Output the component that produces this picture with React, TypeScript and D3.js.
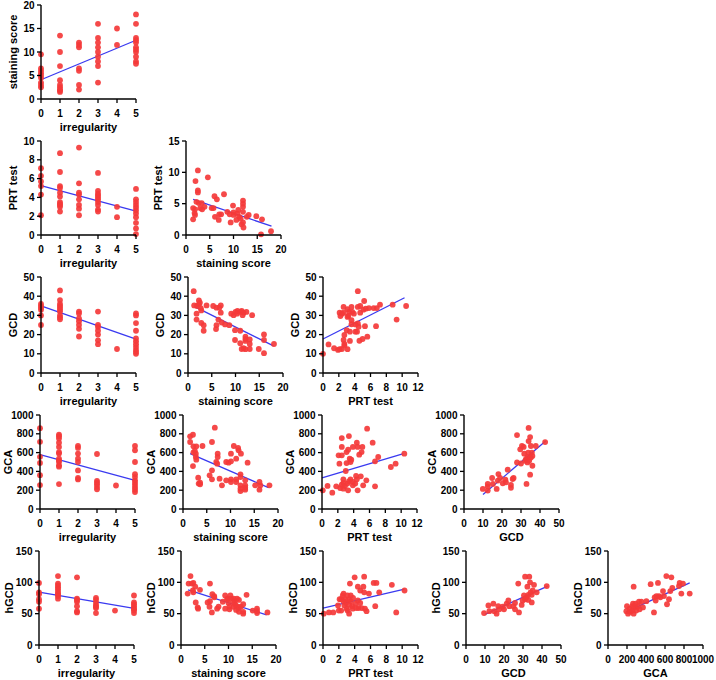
import { scaleLinear } from 'd3'

type Pt = [number, number]

// irregularity is an integer score, so those panels are stored per level (0..5)
const byLevel = (levels: number[][]): Pt[] => levels.flatMap((ys, i) => ys.map((y) => [i, y] as Pt))

const irrStain = byLevel([
  [9.5, 6.5, 6, 5.5, 5, 4.5, 3.5, 3, 2.5],
  [13.5, 10, 7, 4, 3, 2.5, 2, 1.8, 1.5],
  [12, 11.5, 11, 6.5, 6, 3, 2],
  [16, 13, 12, 11, 10, 9, 8, 7, 3.5],
  [15, 11.5],
  [18, 16, 13, 12.5, 12, 11, 10.5, 10, 9, 8, 7.5],
])

const irrPrt = byLevel([
  [7.1, 6.3, 5.7, 5.2, 4.3, 2.1],
  [8.7, 6.7, 5.2, 5.0, 4.5, 4.1, 3.5, 3.3, 3.2, 3.0, 2.5],
  [9.3, 5.5, 4.5, 4.3, 3.8, 3.2, 2.8, 2.1],
  [6.6, 4.7, 4.4, 4.2, 4.0, 3.8, 3.5, 3.2, 2.7, 2.5],
  [3.0, 1.9],
  [4.9, 3.8, 3.5, 3.2, 2.9, 2.6, 2.3, 1.9, 1.3, 0.7, 0.1],
])

const stainPrt: Pt[] = [
  [2.5, 10.3], [2.0, 8.6], [2.5, 7.1], [2.5, 6.8], [2.2, 5.3], [2.7, 5.1], [3.3, 5.1],
  [1.5, 4.3], [1.9, 4.1], [1.8, 3.5], [1.9, 3.2], [1.5, 2.5], [3.0, 4.3], [3.4, 4.1],
  [3.9, 4.5], [4.6, 9.2], [6.0, 6.2], [6.5, 5.7], [8.0, 6.5], [5.4, 4.3], [5.8, 4.3],
  [6.1, 2.9], [7.0, 3.3], [7.4, 3.3], [6.9, 2.4], [8.7, 3.7], [9.2, 3.3], [9.9, 4.7],
  [10, 3.6], [10, 3.2], [9.4, 2.0], [11, 4.0], [10.8, 3.4], [11.2, 2.9], [10.6, 2.4],
  [12, 5.5], [12, 5.0], [12, 4.5], [12, 3.7], [12, 2.0], [11.7, 1.7], [12.1, 1.2],
  [12.8, 2.9], [13.2, 3.2], [14.8, 3.0], [16, 2.5], [15.8, 0.1], [17.9, 0.6], [11.5, 2.6],
]

const irrGcd = byLevel([
  [36, 35, 34, 33, 30, 25],
  [43, 38, 36, 35, 34, 33, 32, 30, 29, 28],
  [32, 31, 28.5, 27, 25, 23, 19],
  [32, 25, 24, 22, 20, 17, 15],
  [12.5],
  [31, 30, 26, 22, 18, 16.5, 15, 13.5, 12, 11, 10],
])

const stainGcd: Pt[] = [
  [1.2, 42.6], [1.3, 35.2], [1.9, 34.9], [2.3, 35.7], [2.5, 36.6], [2.3, 37.8], [1.8, 30.9],
  [1.8, 27.8], [2.7, 33.8], [2.8, 32.6], [2.8, 26.1], [3.3, 24.9], [3.3, 22], [3.9, 35.2],
  [5.3, 34.9], [6.0, 34], [6.6, 34], [6.9, 35.2], [6.9, 31.4], [6.0, 24.9], [5.9, 22.9],
  [6.4, 27.8], [7.1, 26.3], [7.8, 25.3], [8.7, 24.9], [9.1, 30.9], [9.6, 30.1], [10, 31.8],
  [10.4, 32.3], [10.3, 30.9], [11, 31.8], [11.3, 32.3], [11.7, 31.4], [12.3, 31.8],
  [11.5, 30.1], [13.5, 30.1], [9.9, 22.3], [9.9, 17.2], [11, 22], [11, 15.5], [12.1, 18.9],
  [12.1, 17.7], [12.1, 16.7], [11.7, 12.9], [12.1, 12.4], [11.3, 12.5], [13, 17.5],
  [13, 15.1], [13, 12.5], [14.9, 12.5], [16, 20.1], [16, 17.2], [16, 10.3], [18.1, 15.1],
]

const prtGcd: Pt[] = [
  [0, 10], [0.7, 14.9], [1.4, 12.9], [1.9, 12], [2.1, 12.4], [2.4, 12.5], [3.1, 12.4],
  [2.1, 31.4], [2.2, 29.7], [2.4, 30.9], [2.6, 31.4], [2.6, 34.4], [2.7, 19.8], [2.6, 17.2],
  [2.7, 15.1], [2.7, 14.3], [3.0, 22.3], [3.1, 33.2], [3.3, 31.8], [3.2, 29.7], [3.1, 29.2],
  [3.4, 16.7], [3.4, 21.5], [3.6, 34.4], [3.6, 27.5], [3.6, 25.4], [3.7, 31.8], [3.9, 30.9],
  [4.1, 21.5], [4.3, 21.5], [4.1, 25.3], [4.4, 42.6], [4.4, 34.4], [4.7, 34.9], [4.4, 25.8],
  [4.5, 24.1], [4.6, 16.8], [5.0, 17.7], [4.7, 31.4], [5.1, 33], [5.2, 37.5], [5.4, 33.5],
  [5.3, 24.4], [5.6, 18.9], [5.8, 33.8], [6.4, 33.8], [6.8, 33.8], [6.7, 24.4], [7.2, 35.6],
  [8.8, 35.6], [9.3, 27.8], [10.5, 34.9],
]

const irrGca = byLevel([
  [860, 715, 555, 490, 360, 255],
  [790, 775, 750, 705, 660, 605, 590, 535, 515, 500, 465, 450, 265],
  [670, 650, 590, 535, 500, 410, 330, 315],
  [585, 300, 280, 260, 235, 210],
  [250],
  [670, 625, 500, 370, 340, 305, 280, 255, 230, 205, 180],
])

const stainGca: Pt[] = [
  [1.5, 773], [2.1, 790], [1.5, 713], [2.2, 667], [2.5, 617], [2.8, 667], [2.2, 603],
  [2.7, 589], [2.7, 553], [2.8, 525], [2.1, 457], [3.2, 333], [3.3, 270], [3.6, 262],
  [3.6, 280], [4.1, 670], [5.6, 358], [6.1, 411], [6.1, 713], [6.1, 316], [6.7, 865],
  [7.0, 500], [7.3, 589], [7.3, 553], [7.2, 482], [7.7, 323], [8.2, 252], [9.1, 500],
  [9.6, 493], [10.1, 507], [9.1, 305], [10.1, 316], [10.1, 287], [10.1, 589], [10.7, 670],
  [11.2, 535], [11.2, 316], [11.2, 287], [11.6, 649], [11.7, 624], [12.2, 589], [12.1, 369],
  [12.1, 340], [12.1, 252], [12.1, 216], [12.1, 191], [13.1, 305], [13.1, 252], [13.1, 227],
  [13.1, 206], [13.6, 493], [15.2, 252], [16.1, 287], [16.3, 252], [16.1, 206], [18.2, 252],
]

const prtGca: Pt[] = [
  [0.1, 199], [0.7, 245], [1.3, 174], [1.8, 241], [2.1, 571], [2.2, 482], [2.5, 571],
  [2.5, 660], [2.5, 755], [2.3, 223], [2.5, 259], [2.7, 316], [2.7, 216], [2.7, 277],
  [2.9, 245], [3.0, 404], [3.1, 489], [3.1, 606], [3.3, 631], [3.2, 270], [3.3, 199],
  [3.4, 294], [3.4, 776], [3.5, 535], [3.6, 500], [3.7, 525], [3.6, 316], [3.9, 287],
  [3.9, 252], [3.9, 660], [4.2, 270], [4.3, 351], [4.4, 316], [4.5, 199], [4.4, 706],
  [4.5, 660], [4.7, 578], [5.0, 606], [5.1, 660], [4.9, 348], [5.2, 252], [5.6, 305],
  [5.7, 855], [6.4, 706], [6.7, 241], [6.7, 507], [7.1, 553], [8.7, 447], [9.3, 482],
  [10.4, 589],
]

const gcdGca: Pt[] = [
  [9.9, 214], [12.5, 267], [12.5, 239], [12.5, 196], [14.8, 330], [15.2, 267], [17.2, 214],
  [17.8, 302], [18.1, 372], [19, 330], [20.4, 274], [21.8, 312], [22.1, 284], [23, 418],
  [24.7, 256], [24.7, 225], [25.6, 319], [26.1, 330], [27.9, 495], [27.9, 786], [29.6, 635],
  [30, 484], [30.5, 670], [31.4, 660], [31.7, 589], [32.2, 512], [32.6, 530], [32.9, 267],
  [33.4, 554], [33.4, 495], [33.8, 600], [34, 723], [34, 863], [34.3, 512], [34.8, 765],
  [34.8, 365], [35.2, 547], [35.2, 670], [35.7, 600], [36, 565], [36, 460], [37.8, 670],
  [42.7, 712],
]

const irrHgcd = byLevel([
  [99, 84, 81, 73, 69, 58],
  [110, 98, 95, 92, 89, 85, 82, 80, 78, 74],
  [108, 74, 72, 69, 62, 54, 52],
  [75, 72, 67, 63, 61, 59, 51],
  [55],
  [79, 68, 65, 62, 59, 57, 55, 51],
])

const stainHgcd: Pt[] = [
  [1.6, 98], [1.4, 82], [2.0, 110], [2.3, 98], [2.6, 99], [2.5, 87], [2.6, 84], [3.0, 93],
  [3.1, 68], [3.5, 60], [3.6, 58], [4.0, 88], [5.6, 68], [6.1, 70], [6.1, 98], [6.0, 61],
  [6.5, 52], [6.6, 81], [7.0, 78], [7.0, 76], [7.6, 58], [7.9, 61], [8.8, 69], [9.3, 79],
  [9.3, 58], [9.7, 73], [9.9, 74], [10.0, 67], [10.2, 61], [10.2, 57], [10.4, 79],
  [10.6, 74], [11.1, 74], [11.1, 67], [11.1, 61], [11.3, 70], [11.5, 64], [11.6, 56],
  [11.8, 74], [12.2, 72], [11.9, 61], [12.2, 59], [12.2, 53], [12.6, 61], [13.1, 65],
  [13.1, 53], [13.1, 50], [13.8, 80], [15.1, 55], [16.0, 58], [16.0, 54], [16.0, 51],
  [18.2, 52],
]

const prtHgcd: Pt[] = [
  [0.1, 50], [0.75, 52], [1.3, 52], [1.9, 63], [2.0, 55], [2.1, 73], [2.3, 73], [2.3, 55],
  [2.5, 79], [2.6, 82], [2.6, 70], [2.7, 63], [2.8, 73], [2.9, 67], [3.0, 58], [3.1, 55],
  [3.1, 79], [3.3, 73], [3.3, 50], [3.3, 64], [3.4, 98], [3.5, 79], [3.5, 70], [3.7, 62],
  [3.75, 58], [3.8, 75], [4.0, 108], [4.1, 66], [4.2, 59], [4.4, 93], [4.4, 71], [4.5, 59],
  [4.7, 67], [4.7, 87], [4.9, 59], [5.1, 93], [5.2, 109], [5.2, 84], [5.3, 58], [5.5, 54],
  [5.8, 82], [6.4, 99], [6.75, 99], [6.6, 62], [7.1, 84], [8.7, 96], [9.25, 52], [10.3, 87],
]

const gcdHgcd: Pt[] = [
  [9.5, 51], [11.8, 63], [12.3, 54], [14.4, 66], [14.9, 54], [16.1, 50], [17.0, 62],
  [17.5, 57], [19.3, 61], [20, 57], [21.4, 66], [22.3, 71], [22.8, 62], [24.9, 62],
  [25.8, 57], [25.8, 67], [27.5, 98], [27.9, 52], [29.3, 64], [29.8, 71], [30.5, 79],
  [31.1, 73], [31.1, 109], [31.9, 76], [32.3, 93], [32.8, 80], [32.8, 72], [33.3, 109],
  [33.7, 100], [34, 84], [34.6, 80], [34.6, 68], [35.1, 87], [35.8, 96], [37.2, 84],
  [42.5, 94],
]

const gcaHgcd: Pt[] = [
  [193, 54], [211, 50], [200, 62], [228, 58], [235, 53], [256, 62], [263, 66], [256, 55],
  [270, 50], [270, 93], [281, 60], [291, 66], [298, 55], [316, 62], [326, 69], [333, 57],
  [351, 69], [368, 60], [404, 70], [449, 97], [484, 52], [491, 76], [502, 71], [509, 78],
  [526, 99], [537, 78], [551, 76], [579, 86], [589, 78], [614, 110], [621, 65], [642, 73],
  [656, 86], [667, 108], [677, 91], [754, 99], [747, 94], [772, 82], [789, 98], [860, 82],
]

// fitted lines, read as end points
const fitIrrStain: Pt[] = [[0, 4.1], [5, 12.5]]
const fitIrrPrt: Pt[] = [[0, 5.25], [5, 2.55]]
const fitStainPrt: Pt[] = [[1.5, 5.7], [18, 1.4]]
const fitIrrGcd: Pt[] = [[0, 35], [5, 17.7]]
const fitStainGcd: Pt[] = [[1.5, 34.4], [18, 14.1]]
const fitPrtGcd: Pt[] = [[0, 17.7], [10.3, 39.2]]
const fitIrrGca: Pt[] = [[0, 578], [5, 305]]
const fitStainGca: Pt[] = [[1.5, 589], [18, 227]]
const fitPrtGca: Pt[] = [[0, 330], [10.3, 589]]
const fitGcdGca: Pt[] = [[10, 154], [43, 723]]
const fitIrrHgcd: Pt[] = [[0, 84.5], [5, 58.6]]
const fitStainHgcd: Pt[] = [[1.5, 88], [18, 48]]
const fitPrtHgcd: Pt[] = [[0, 59], [10.3, 89]]
const fitGcdHgcd: Pt[] = [[10, 49], [43, 94]]
const fitGcaHgcd: Pt[] = [[190, 53], [860, 99]]

const irrAxis = { label: 'irregularity', max: 5, ticks: [0, 1, 2, 3, 4, 5] }
const stainAxis = { label: 'staining score', max: 20, ticks: [0, 5, 10, 15, 20] }
const prtAxis = { label: 'PRT test', max: 12, ticks: [0, 2, 4, 6, 8, 10, 12] }
const prt10Axis = { label: 'PRT test', max: 10, ticks: [0, 2, 4, 6, 8, 10] }
const prt15Axis = { label: 'PRT test', max: 15, ticks: [0, 5, 10, 15] }
const gcdAxis = { label: 'GCD', max: 50, ticks: [0, 10, 20, 30, 40, 50] }
const gcaAxis = { label: 'GCA', max: 1000, ticks: [0, 200, 400, 600, 800, 1000] }
const hgcdAxis = { label: 'hGCD', max: 150, ticks: [0, 50, 100, 150] }

type AxisDef = typeof irrAxis

const rowTop = [5, 141, 277, 415, 551]
const rowHeight = [94, 94, 96, 94, 94]
const plotWidth = 95

const panels: { row: number; left: number; x: AxisDef; y: AxisDef; pts: Pt[]; fit: Pt[] }[] = [
  { row: 0, left: 41, x: irrAxis, y: stainAxis, pts: irrStain, fit: fitIrrStain },
  { row: 1, left: 41, x: irrAxis, y: prt10Axis, pts: irrPrt, fit: fitIrrPrt },
  { row: 1, left: 186, x: stainAxis, y: prt15Axis, pts: stainPrt, fit: fitStainPrt },
  { row: 2, left: 41, x: irrAxis, y: gcdAxis, pts: irrGcd, fit: fitIrrGcd },
  { row: 2, left: 188, x: stainAxis, y: gcdAxis, pts: stainGcd, fit: fitStainGcd },
  { row: 2, left: 323, x: prtAxis, y: gcdAxis, pts: prtGcd, fit: fitPrtGcd },
  { row: 3, left: 40, x: irrAxis, y: gcaAxis, pts: irrGca, fit: fitIrrGca },
  { row: 3, left: 183, x: stainAxis, y: gcaAxis, pts: stainGca, fit: fitStainGca },
  { row: 3, left: 322, x: prtAxis, y: gcaAxis, pts: prtGca, fit: fitPrtGca },
  { row: 3, left: 464, x: gcdAxis, y: gcaAxis, pts: gcdGca, fit: fitGcdGca },
  { row: 4, left: 39, x: irrAxis, y: hgcdAxis, pts: irrHgcd, fit: fitIrrHgcd },
  { row: 4, left: 181, x: stainAxis, y: hgcdAxis, pts: stainHgcd, fit: fitStainHgcd },
  { row: 4, left: 323, x: prtAxis, y: hgcdAxis, pts: prtHgcd, fit: fitPrtHgcd },
  { row: 4, left: 466, x: gcdAxis, y: hgcdAxis, pts: gcdHgcd, fit: fitGcdHgcd },
  { row: 4, left: 608, x: gcaAxis, y: hgcdAxis, pts: gcaHgcd, fit: fitGcaHgcd },
]

const font = '"Liberation Sans", Arial, sans-serif'
const titleOffset: Record<number, number> = { 1: 26, 2: 28, 3: 29.5, 4: 32 }

const Panel = ({ row, left, x: xa, y: ya, pts, fit }: (typeof panels)[number]) => {
  const top = rowTop[row]
  const h = rowHeight[row]
  const x = scaleLinear().domain([0, xa.max]).range([0, plotWidth])
  const y = scaleLinear().domain([0, ya.max]).range([h, 0])
  const maxChars = Math.max(...ya.ticks.map((t) => String(t).length))

  return (
    <g transform={`translate(${left}, ${top})`}>
      <line x1={x(fit[0][0])} y1={y(fit[0][1])} x2={x(fit[1][0])} y2={y(fit[1][1])} stroke="#3a3af0" strokeWidth={1.3} />
      {pts.map(([px, py], i) => (
        <circle key={i} cx={x(px)} cy={y(py)} r={2.9} fill="#f43a3a" fillOpacity={0.92} />
      ))}
      <line x1={0} y1={h} x2={plotWidth} y2={h} stroke="#000" strokeWidth={1.4} />
      <line x1={0} y1={0} x2={0} y2={h} stroke="#000" strokeWidth={1.4} />
      {xa.ticks.map((t) => (
        <g key={`x${t}`} transform={`translate(${x(t)}, ${h})`}>
          <line y2={4} stroke="#000" strokeWidth={1.3} />
          <text y={17.5} textAnchor="middle" fontSize={10} fontWeight="bold" fontFamily={font}>
            {t}
          </text>
        </g>
      ))}
      {ya.ticks.map((t) => (
        <g key={`y${t}`} transform={`translate(0, ${y(t)})`}>
          <line x2={-4} stroke="#000" strokeWidth={1.3} />
          <text x={-6.5} dy="0.35em" textAnchor="end" fontSize={10} fontWeight="bold" fontFamily={font}>
            {t}
          </text>
        </g>
      ))}
      <text x={plotWidth / 2} y={h + 31.5} textAnchor="middle" fontSize={11} fontWeight="bold" fontFamily={font}>
        {xa.label}
      </text>
      <text
        transform={`translate(${-titleOffset[maxChars]}, ${h / 2}) rotate(-90)`}
        dy="0.35em"
        textAnchor="middle"
        fontSize={11}
        fontWeight="bold"
        fontFamily={font}
      >
        {ya.label}
      </text>
    </g>
  )
}

const App = () => (
  <svg width={716} height={680} viewBox="0 0 716 680" style={{ position: 'absolute', left: 0, top: 0, background: '#fff' }}>
    {panels.map((p, i) => (
      <Panel key={i} {...p} />
    ))}
  </svg>
)

export default App
